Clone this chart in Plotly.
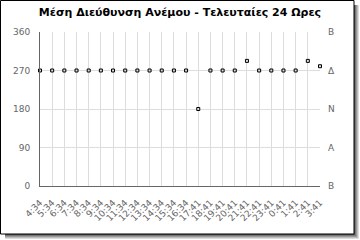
import plotly.graph_objects as go

times = ["4:34", "5:34", "6:34", "7:34", "8:34", "9:34", "10:34", "11:34", "12:34",
         "13:34", "14:34", "15:34", "16:34", "17:41", "18:41", "19:41", "20:41",
         "21:41", "22:41", "23:41", "0:41", "1:41", "2:41", "3:41"]
direction = [270, 270, 270, 270, 270, 270, 270, 270, 270, 270, 270, 270, 270,
             180, 270, 270, 270, 292.5, 270, 270, 270, 270, 292.5, 280]
y_ticks = [0, 90, 180, 270, 360]
compass = ["B", "A", "N", "Δ", "B"]
title = "Μέση Διεύθυνση Ανέμου - Τελευταίες 24 Ωρες"

W, H = 360, 240
L, R, T, B = 40, 40, 32, 54
pw, ph = W - L - R, H - T - B

def px(x):
    return (x - L) / pw

def py(y):
    return (H - B - y) / ph

idx = list(range(len(times)))
fig = go.Figure()
fig.add_trace(go.Scatter(x=idx, y=direction, mode="markers", cliponaxis=False,
                         marker=dict(symbol="square", size=3, color="#dddddd",
                                     line=dict(color="black", width=1)),
                         showlegend=False, hoverinfo="skip"))
fig.add_trace(go.Scatter(x=[0], y=[0], yaxis="y2", mode="markers", opacity=0,
                         showlegend=False, hoverinfo="skip"))

shapes = []
for i, c in enumerate(["#555555", "#777777", "#999999", "#bbbbbb", "#dddddd"]):
    shapes.append(dict(type="rect", xref="paper", yref="paper",
                       x0=px(354 + i), x1=px(355 + i), y0=py(5), y1=py(235 + i),
                       line=dict(width=0), fillcolor=c, layer="below"))
    shapes.append(dict(type="rect", xref="paper", yref="paper",
                       x0=px(5), x1=px(355 + i), y0=py(234 + i), y1=py(235 + i),
                       line=dict(width=0), fillcolor=c, layer="below"))
shapes.append(dict(type="rect", xref="paper", yref="paper",
                   x0=px(0.5), x1=px(354), y0=py(0.5), y1=py(234),
                   line=dict(color="black", width=1), fillcolor="rgba(0,0,0,0)",
                   layer="below"))

tick_font = dict(family="DejaVu Sans", size=9, color="#666666")

fig.update_layout(
    width=W, height=H,
    margin=dict(l=L, r=R, t=T, b=B),
    paper_bgcolor="white", plot_bgcolor="white",
    font=tick_font,
    title=dict(text=title, x=0.5, xanchor="center",
               y=1 - 12 / H, yanchor="middle",
               font=dict(family="DejaVu Sans", size=11, color="black", weight=700)),
    xaxis=dict(range=[0, len(times) - 1], tickvals=idx, ticktext=times,
               tickangle=-45, tickfont=tick_font, ticklabelstandoff=7,
               showgrid=True, gridcolor="#dddddd", gridwidth=1,
               showline=True, linecolor="#666666", linewidth=1,
               zeroline=False, ticks="", fixedrange=True),
    yaxis=dict(range=[0, 360], tickvals=y_ticks, ticktext=[str(v) for v in y_ticks],
               tickfont=tick_font, ticklabelstandoff=7,
               showgrid=True, gridcolor="#dddddd", gridwidth=1,
               showline=True, linecolor="#666666", linewidth=1,
               zeroline=False, ticks="", fixedrange=True),
    yaxis2=dict(range=[0, 360], tickvals=y_ticks, ticktext=compass,
                tickfont=tick_font, ticklabelstandoff=7,
                overlaying="y", side="right", showgrid=False, showline=False,
                zeroline=False, ticks="", fixedrange=True),
    shapes=shapes,
)
fig.write_html("out.html", config={"displayModeBar": False})
